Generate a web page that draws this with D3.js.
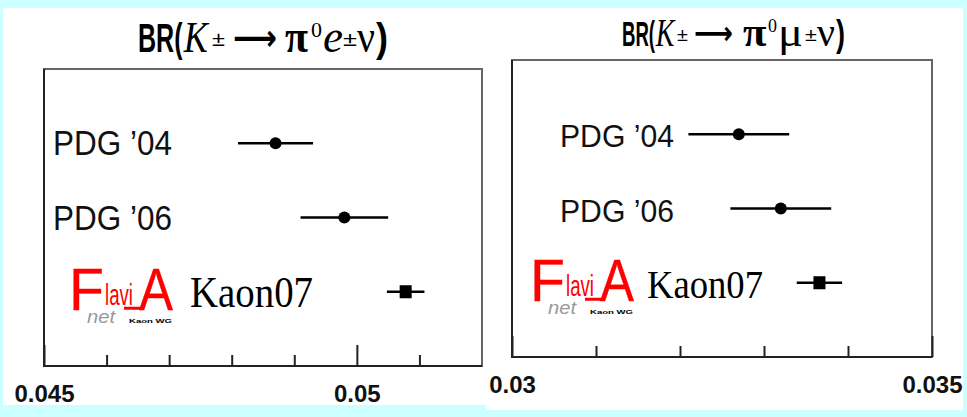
<!DOCTYPE html>
<html>
<head>
<meta charset="utf-8">
<script src="https://cdn.jsdelivr.net/npm/d3@7"></script>
<style>
  body { margin: 0; background: #ccffff; }
  svg { display: block; }
</style>
</head>
<body>
<svg id="chart" width="967" height="417"></svg>
<script>
const rows = ['PDG \u201904', 'PDG \u201906', 'Kaon07'];
const ke3Values = [0.0487, 0.0498, 0.05078];
const ke3Errors = [0.0006, 0.0007, 0.0003];
const kmu3Values = [0.0327, 0.0332, 0.03366];
const kmu3Errors = [0.0006, 0.0006, 0.00027];

// axes
const ke3Domain = [0.045, 0.052];
const ke3Ticks = [0.045, 0.05];
const ke3TickLabels = ['0.045', '0.05'];
const ke3MinorTicks = [0.046, 0.047, 0.048, 0.049, 0.051];
const kmu3Domain = [0.03, 0.035];
const kmu3Ticks = [0.03, 0.035];
const kmu3TickLabels = ['0.03', '0.035'];
const kmu3MinorTicks = [0.031, 0.032, 0.033, 0.034];

const sans = "'Liberation Sans', Arial, Helvetica, sans-serif";
const serif = "'Liberation Serif', 'Times New Roman', serif";
const arrowFont = "'DejaVu Sans', sans-serif";

const svg = d3.select('#chart');

// white sheets behind each plot
svg.append('rect').attr('x', 3).attr('y', 8).attr('width', 483).attr('height', 397).attr('fill', '#fff');
svg.append('rect').attr('x', 486).attr('y', 8).attr('width', 477).attr('height', 402).attr('fill', '#fff');

// each piece of the formula is fitted between x0 and x1
function drawTitle(parts, baseline) {
	const g = svg.append('g');
	parts.forEach((p) => {
		const t = g.append('text')
			.text(p.text)
			.attr('font-family', p.font || sans)
			.attr('font-size', p.size)
			.attr('fill', '#000');
		if (p.italic) t.attr('font-style', 'italic');
		if (p.bold) t.attr('font-weight', 'bold');
		const bb = t.node().getBBox();
		const k = (p.x1 - p.x0) / bb.width;
		t.attr('transform', `translate(${p.x0 - bb.x * k},${baseline - (p.rise || 0)}) scale(${k},1)`);
	});
}

function drawLogo(x, y) {
	const g = svg.append('g').attr('transform', `translate(${x},${y})`);
	g.append('text').text('F')
		.attr('x', -3).attr('y', 44)
		.attr('font-family', sans).attr('font-size', 60)
		.attr('fill', '#f00').attr('stroke', '#f00').attr('stroke-width', 0.3)
		.attr('textLength', 35).attr('lengthAdjust', 'spacingAndGlyphs');
	g.append('text').text('lavi')
		.attr('x', 33).attr('y', 39)
		.attr('font-family', sans).attr('font-size', 30).attr('fill', '#f00')
		.attr('textLength', 28).attr('lengthAdjust', 'spacingAndGlyphs');
	g.append('path')
		.attr('d', 'M52,42.5H71')
		.attr('stroke', '#f00').attr('stroke-width', 3);
	g.append('text').text('A')
		.attr('x', 67).attr('y', 44)
		.attr('font-family', sans).attr('font-size', 60)
		.attr('fill', '#f00').attr('stroke', '#f00').attr('stroke-width', 0.3)
		.attr('textLength', 34).attr('lengthAdjust', 'spacingAndGlyphs');
	g.append('text').text('net')
		.attr('x', 15).attr('y', 57)
		.attr('font-family', sans).attr('font-style', 'italic')
		.attr('font-size', 18).attr('fill', '#999')
		.attr('textLength', 28).attr('lengthAdjust', 'spacingAndGlyphs');
	g.append('text').text('Kaon WG')
		.attr('x', 57).attr('y', 57)
		.attr('font-family', sans).attr('font-weight', 'bold')
		.attr('font-size', 6).attr('fill', '#000')
		.attr('textLength', 43).attr('lengthAdjust', 'spacingAndGlyphs');
}

function drawPanel(p) {
	const x = d3.scaleLinear().domain(p.domain).range([p.left, p.right]);
	const y = d3.scalePoint().domain(rows).range([p.top, p.bottom]).padding(1);
	const data = rows.map((r, i) => ({ row: r, value: p.values[i], err: p.errors[i] }));

	// frame
	svg.append('rect')
		.attr('x', p.left).attr('y', p.top)
		.attr('width', p.right - p.left).attr('height', p.bottom - p.top)
		.attr('fill', 'none').attr('stroke', '#666').attr('stroke-width', 2);
	svg.append('path')
		.attr('d', `M${p.left},${p.top}V${p.bottom}H${p.right}`)
		.attr('fill', 'none').attr('stroke', '#222').attr('stroke-width', 2);

	// major ticks with labels
	svg.append('g')
		.attr('transform', `translate(0,${p.bottom})`)
		.call(d3.axisBottom(x).tickValues(p.ticks).tickSize(-21).tickSizeOuter(0)
			.tickFormat((d, i) => p.tickLabels[i]))
		.call((g) => g.select('.domain').remove())
		.call((g) => g.selectAll('.tick line').attr('stroke', '#222').attr('stroke-width', 2))
		.call((g) => g.selectAll('.tick text')
			.attr('y', 36).attr('dy', 0)
			.attr('font-family', sans).attr('font-weight', 'bold')
			.attr('font-size', 24).attr('fill', '#111'));

	// minor ticks
	svg.append('g')
		.attr('transform', `translate(0,${p.bottom})`)
		.call(d3.axisBottom(x).tickValues(p.minorTicks).tickSize(-11).tickFormat(''))
		.call((g) => g.select('.domain').remove())
		.call((g) => g.selectAll('.tick line').attr('stroke', '#222').attr('stroke-width', 2));

	// error bars
	svg.append('g')
		.selectAll('line')
		.data(data)
		.join('line')
		.attr('x1', (d) => x(d.value - d.err))
		.attr('x2', (d) => x(d.value + d.err))
		.attr('y1', (d) => y(d.row))
		.attr('y2', (d) => y(d.row))
		.attr('stroke', '#000').attr('stroke-width', 2.5);

	// PDG points are dots, the Kaon07 fit a square
	svg.append('g')
		.selectAll('circle')
		.data(data.slice(0, 2))
		.join('circle')
		.attr('cx', (d) => x(d.value))
		.attr('cy', (d) => y(d.row))
		.attr('r', 6)
		.attr('fill', '#000');
	svg.append('g')
		.selectAll('rect')
		.data(data.slice(2))
		.join('rect')
		.attr('x', (d) => x(d.value) - 6)
		.attr('y', (d) => y(d.row) - 6.5)
		.attr('width', 12).attr('height', 13)
		.attr('fill', '#000');

	// row labels
	svg.append('g')
		.selectAll('text')
		.data(data.slice(0, 2))
		.join('text')
		.attr('x', p.labelX)
		.attr('y', (d) => y(d.row) + p.labelDy)
		.attr('font-family', sans)
		.attr('font-size', p.labelSize)
		.attr('textLength', p.labelLen)
		.attr('lengthAdjust', 'spacingAndGlyphs')
		.attr('fill', '#111')
		.text((d) => d.row);
	svg.append('text')
		.attr('x', p.kaonX)
		.attr('y', y(rows[2]) + 15)
		.attr('font-family', serif)
		.attr('font-size', p.kaonSize)
		.attr('textLength', p.kaonLen)
		.attr('lengthAdjust', 'spacingAndGlyphs')
		.attr('fill', '#000')
		.text(rows[2]);
	drawLogo(p.logoX, y(rows[2]) - 26);
}

drawPanel({
	domain: ke3Domain, values: ke3Values, errors: ke3Errors,
	ticks: ke3Ticks, tickLabels: ke3TickLabels, minorTicks: ke3MinorTicks,
	left: 44, right: 482, top: 69, bottom: 366,
	labelX: 53, labelDy: 12, labelSize: 35, labelLen: 119,
	kaonX: 190, kaonSize: 45, kaonLen: 123, logoX: 72,
});
drawPanel({
	domain: kmu3Domain, values: kmu3Values, errors: kmu3Errors,
	ticks: kmu3Ticks, tickLabels: kmu3TickLabels, minorTicks: kmu3MinorTicks,
	left: 512, right: 932, top: 60, bottom: 357,
	labelX: 560, labelDy: 13, labelSize: 31, labelLen: 114,
	kaonX: 647, kaonSize: 40, kaonLen: 116, logoX: 533,
});

drawTitle([
	{ text: 'BR(', bold: true, size: 40, x0: 138, x1: 183 },
	{ text: 'K', font: serif, italic: true, size: 44, x0: 183, x1: 210 },
	{ text: '\u00b1', size: 20, x0: 212, x1: 225, rise: 6 },
	{ text: '\u27f6', font: arrowFont, bold: true, size: 36, x0: 233, x1: 277, rise: 2 },
	{ text: '\u03c0', font: serif, bold: true, size: 46, x0: 285, x1: 308 },
	{ text: '0', font: serif, size: 21, x0: 311, x1: 322, rise: 15 },
	{ text: 'e', font: serif, italic: true, size: 46, x0: 323, x1: 343 },
	{ text: '\u00b1', size: 20, x0: 343, x1: 357, rise: 6 },
	{ text: '\u03bd', font: serif, size: 46, x0: 357, x1: 375 },
	{ text: ')', bold: true, size: 40, x0: 376, x1: 388 },
], 52);
drawTitle([
	{ text: 'BR(', bold: true, size: 36, x0: 622, x1: 655 },
	{ text: 'K', font: serif, italic: true, size: 40, x0: 655, x1: 676 },
	{ text: '\u00b1', size: 18, x0: 677, x1: 688, rise: 5 },
	{ text: '\u27f6', font: arrowFont, bold: true, size: 32, x0: 694, x1: 733, rise: 2 },
	{ text: '\u03c0', font: serif, bold: true, size: 41, x0: 743, x1: 767 },
	{ text: '0', font: serif, size: 19, x0: 768, x1: 777, rise: 14 },
	{ text: '\u03bc', font: serif, size: 41, x0: 778, x1: 803 },
	{ text: '\u00b1', size: 18, x0: 805, x1: 817, rise: 5 },
	{ text: '\u03bd', font: serif, size: 41, x0: 817, x1: 835 },
	{ text: ')', bold: true, size: 36, x0: 836, x1: 845 },
], 46);
</script>
</body>
</html>
